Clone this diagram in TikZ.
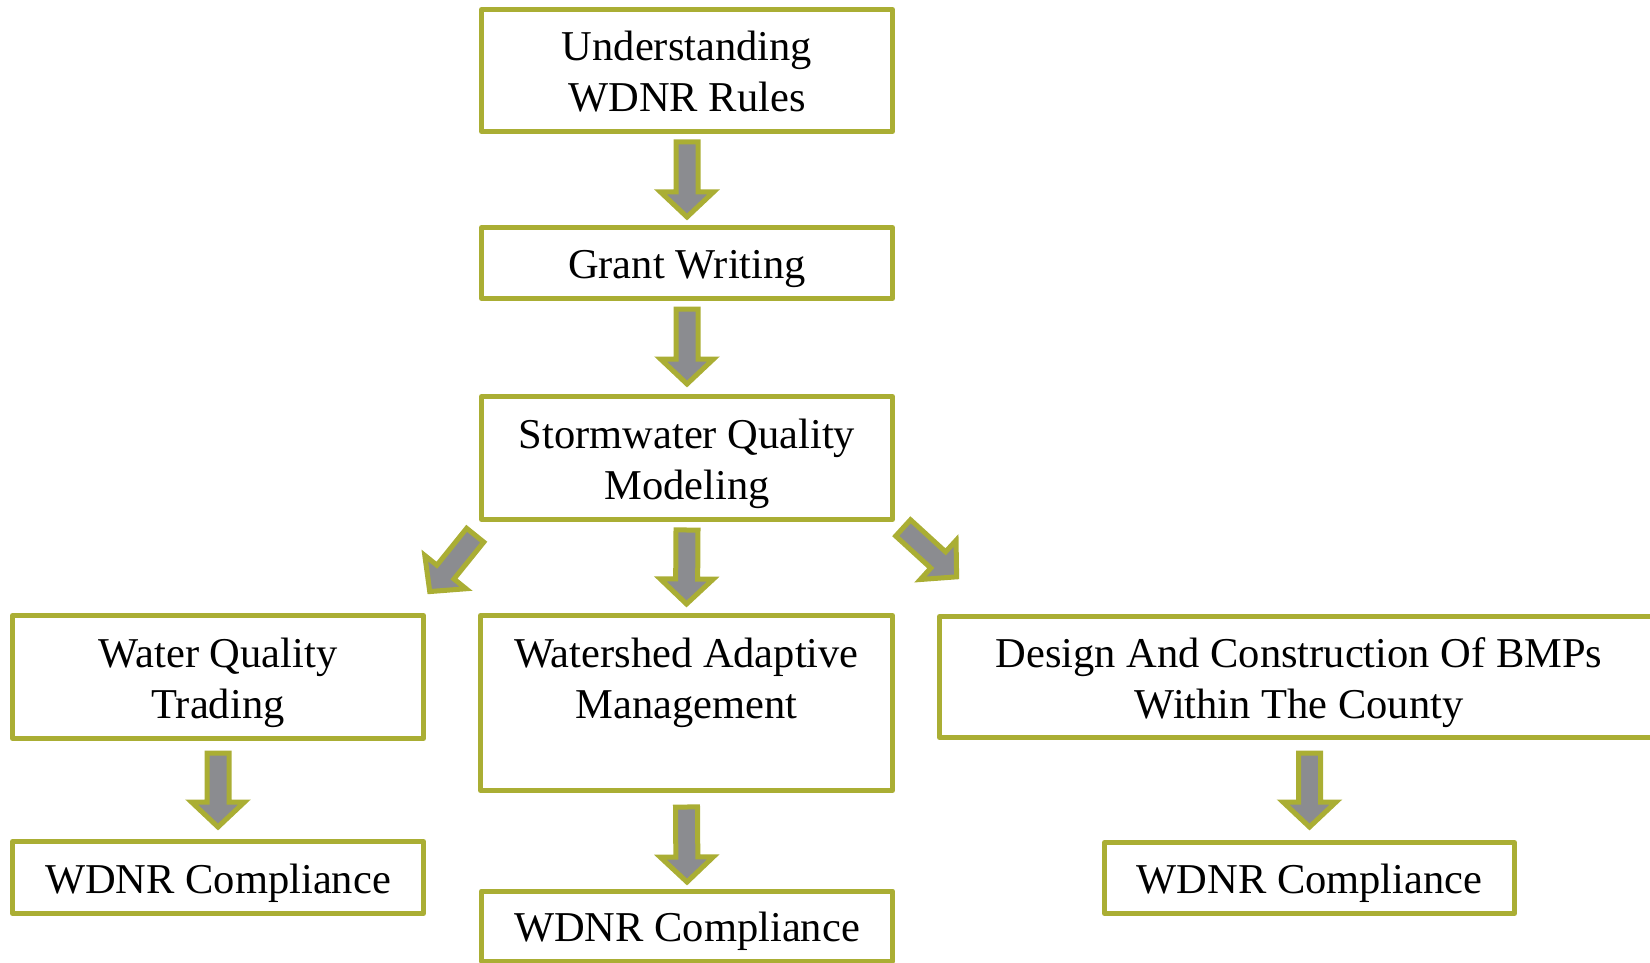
\documentclass[tikz,border=0pt]{standalone}
\usepackage{fontspec}
\setmainfont{Liberation Serif}
\usetikzlibrary{calc}

\definecolor{framegreen}{RGB}{170,174,52}
\definecolor{arrowgray}{RGB}{139,140,144}

% every text line carries the same strut, so lines stack at a fixed pitch
\newcommand\lnstrut{\rule[-10pt]{0pt}{51pt}}

% hollow block arrow from #1 (tail) to #2 (tip)
\newcommand\blockarrow[2]{%
  \path #1 coordinate (baA) #2 coordinate (baB);
  \pgfpointdiff{\pgfpointanchor{baA}{center}}{\pgfpointanchor{baB}{center}}%
  \pgfgetlastxy{\badx}{\bady}%
  \pgfmathsetmacro\baang{atan2(\bady,\badx)}%
  \pgfmathsetmacro\balen{veclen(\badx,\bady)}%
  \begin{scope}[shift={(baA)}, rotate=\baang]
    \draw[barrow] (0,-11) -- (\balen-25,-11) -- (\balen-25,-26.5) -- (\balen,0)
      -- (\balen-25,26.5) -- (\balen-25,11) -- (0,11) -- cycle;
  \end{scope}}

\tikzset{
  box/.style={draw=framegreen, line width=5pt, fill=white, inner sep=0pt,
    align=center, font=\fontsize{42.5}{51}\selectfont, line join=round},
  barrow/.style={draw=framegreen, fill=arrowgray, line width=5pt, line join=miter}
}

\begin{document}
\begin{tikzpicture}[x=1pt, y=1pt]
  \useasboundingbox (0,0) rectangle (1650,-963);
  \clip (0,0) rectangle (1650,-963);

  % main chain
  \node[box, minimum width=411pt, minimum height=122pt] (b1) at (687,-70.5)
    {\lnstrut Understanding\\\lnstrut WDNR Rules};
  \node[box, minimum width=411pt, minimum height=71pt] (b2) at (687,-263)
    {\lnstrut Grant Writing};
  \node[box, minimum width=411pt, minimum height=123pt] (b3) at (687,-458)
    {\lnstrut Stormwater Quality\\\lnstrut Modeling};

  % three branches
  \node[box, minimum width=411pt, minimum height=123pt] (l1) at (218,-677)
    {\lnstrut Water Quality\\\lnstrut Trading};
  \node[box, minimum width=412pt, minimum height=175pt] (m1) at (686.5,-703)
    {\lnstrut Watershed Adaptive\\\lnstrut Management\\\lnstrut};
  \node[box, minimum width=719pt, minimum height=121pt] (r1) at (1299,-677)
    {\lnstrut Design And Construction Of BMPs\\\lnstrut Within The County};

  % outcomes
  \node[box, minimum width=411pt, minimum height=72pt] (l2) at (218,-877.5)
    {\lnstrut WDNR Compliance};
  \node[box, minimum width=411pt, minimum height=70pt] (m2) at (687,-926)
    {\lnstrut WDNR Compliance};
  \node[box, minimum width=410pt, minimum height=71pt] (r2) at (1309.5,-878)
    {\lnstrut WDNR Compliance};

  % connectors
  \blockarrow{($(b1.south)+(0,-8)$)}{($(b2.north)+(0,8)$)}
  \blockarrow{($(b2.south)+(0,-8)$)}{($(b3.north)+(0,10)$)}
  \blockarrow{($(b3.south)+(0,-8)$)}{($(m1.north)+(0,9)$)}
  \blockarrow{($(b3.south west)+(-3.8,-13.2)$)}{($(l1.north east)+(3.7,21.4)$)}
  \blockarrow{($(b3.south east)+(8.1,-5.9)$)}{($(r1.north west)+(19.7,37.1)$)}
  \blockarrow{($(l1.south)+(0,-12)$)}{($(l2.north)+(0,12)$)}
  \blockarrow{($(m1.south)+(0,-14)$)}{($(m2.north)+(0,6.5)$)}
  \blockarrow{($(r1.south -| r2.north)+(0,-13)$)}{($(r2.north)+(0,13)$)}
\end{tikzpicture}
\end{document}
